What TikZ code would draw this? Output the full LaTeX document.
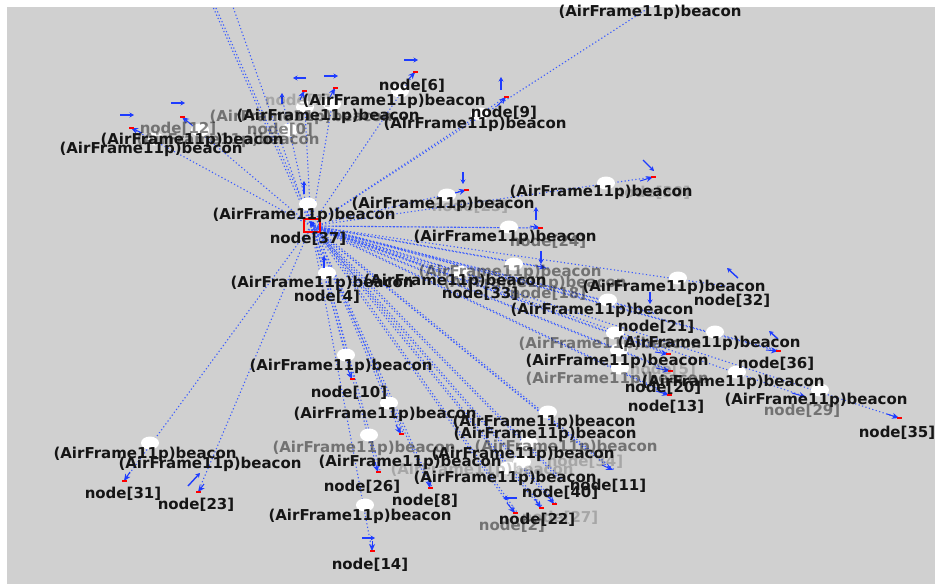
\documentclass[tikz,border=0pt]{standalone}
\usepackage{fontspec}
\setmainfont{DejaVu Sans}
\usetikzlibrary{shapes.geometric,arrows.meta}
\definecolor{bgc}{HTML}{D0D0D0}
\definecolor{lnc}{HTML}{3A5BFF}
\definecolor{arc}{HTML}{1E3CFF}
\definecolor{txc}{HTML}{151515}
\tikzset{
  txt/.style={font=\bfseries\fontsize{15}{15}\selectfont, text=txc, inner sep=0pt},
  half/.style={txt, text opacity=0.5},
  faint/.style={txt, text opacity=0.22},
  link/.style={lnc, line width=1.1pt, dash pattern=on 1.2pt off 2.4pt},
  sph/.style={ellipse, minimum width=18pt, minimum height=13pt, inner sep=0pt, fill=white},
  vel/.style={arc, line width=1.4pt, -{Stealth[length=4.5pt,width=5pt]}},
  dirr/.style={arc, line width=1pt, -{Stealth[length=7pt,width=6pt]}},
}
\newcommand\mk[4]{\draw[dirr] (#3,#4) -- (#1,#2); \fill[red] (#1,#2) ++(-2.5,-1) rectangle ++(5,2);}
\newcommand\bcn{(AirFrame11p)beacon}
\begin{document}
\begin{tikzpicture}[x=1pt,y=-1pt]
\useasboundingbox (0,0) rectangle (935,584);
\fill[white] (0,0) rectangle (935,584);
\fill[bgc] (7,7) rectangle (935,584);

% ---------- node positions ----------
\coordinate (n37) at (311,226);
\coordinate (t1) at (213,7);
\coordinate (t2) at (233,7);
\coordinate (t3) at (650,7);
\coordinate (a1) at (131,128);
\coordinate (a2) at (182,117);
\coordinate (a7) at (283,102);
\coordinate (a3) at (304,91);
\coordinate (a4) at (335,88);
\coordinate (n6) at (415,72);
\coordinate (n9) at (506,97);
\coordinate (b1) at (466,190);
\coordinate (b2) at (653,177);
\coordinate (n24) at (540,228);
\coordinate (n18) at (546,268);
\coordinate (n33) at (482,279);
\coordinate (n4) at (327,284);
\coordinate (n32) at (732,287);
\coordinate (n21) at (656,314);
\coordinate (n36) at (778,351);
\coordinate (n5) at (668,354);
\coordinate (c1) at (670,371);
\coordinate (n20) at (669,395);
\coordinate (n29) at (806,397);
\coordinate (n35) at (899,418);
\coordinate (n10) at (352,379);
\coordinate (d1) at (401,434);
\coordinate (n26) at (378,472);
\coordinate (n14) at (372,551);
\coordinate (n8) at (430,488);
\coordinate (n31) at (124,481);
\coordinate (n23) at (198,492);
\coordinate (n2) at (515,513);
\coordinate (n22) at (541,508);
\coordinate (n27) at (554,504);
\coordinate (n40) at (560,480);
\coordinate (n11) at (612,470);
\coordinate (n34) at (585,449);

% ---------- dotted links ----------
\foreach \t in {t1,t2,t3,a1,a2,a7,a3,a4,n6,n9,b1,b2,n24,n18,n33,n4,n32,n21,n36,n5,c1,n20,n29,n35,n10,d1,n26,n14,n8,n31,n23,n2,n22,n27,n40,n11,n34}
  \draw[link] (n37) -- (\t);
\foreach \t in {t1,n24,n18,n33,n21,n5,c1,n20,n36,n2,n22,n27,n40,n11,n8,d1,n26,n10}
  \draw[link] ([xshift=2.5pt]n37) -- ([xshift=2.5pt]\t);

% ---------- airframes ----------
\foreach \p [count=\i] in {(155,139),(200,130),(289,130),(305,107),(332,104),(400,91),(480,114),(308,204),(447,195),(606,183),(509,227),(514,264),(460,272),(327,273),(678,278),(608,300),(615,333),(715,332),(619,350),(620,368),(737,372),(820,390),(548,412),(346,355),(389,403),(150,443),(369,435),(365,505),(529,443),(522,462),(508,468)}
  \node[sph] (s\i) at \p {};

% ---------- node icons ----------
\draw[red, line width=1.2pt] (304,219) rectangle (320,232);
\fill[arc] (310,222) rectangle ++(4,4);
\mk{131}{128}{142}{133}
\mk{182}{117}{192}{125}
\mk{304}{91}{300}{100}
\mk{335}{88}{330}{97}
\mk{415}{72}{407}{81}
\mk{506}{97}{497}{106}
\mk{466}{190}{455}{193}
\mk{653}{177}{640}{181}
\mk{540}{228}{530}{226}
\mk{778}{351}{766}{350}
\mk{668}{354}{655}{352}
\mk{670}{371}{656}{368}
\mk{669}{395}{656}{391}
\mk{899}{418}{887}{414}
\mk{352}{379}{348}{370}
\mk{124}{481}{130}{472}
\mk{198}{492}{204}{484}
\mk{401}{434}{396}{425}
\mk{378}{472}{375}{462}
\mk{430}{488}{428}{478}
\mk{372}{551}{372}{541}
\mk{515}{513}{507}{503}
\mk{541}{508}{535}{499}
\mk{554}{504}{548}{496}
\draw[dirr] (537,266) -- (546,268);
\draw[dirr] (792,393) -- (806,397);
\draw[dirr] (602,465) -- (613,470);

% ---------- velocity arrows ----------
\draw[vel] (120,115) -- (134,115);
\draw[vel] (171,103) -- (185,103);
\draw[vel] (306,78) -- (293,78);
\draw[vel] (324,76) -- (338,76);
\draw[vel] (282,104) -- (282,93);
\draw[vel] (404,60) -- (418,60);
\draw[vel] (501,90) -- (501,77);
\draw[vel] (463,172) -- (463,184);
\draw[vel] (643,160) -- (654,171);
\draw[vel] (536,220) -- (536,207);
\draw[vel] (541,251) -- (541,264);
\draw[vel] (324,268) -- (324,256);
\draw[vel] (304,194) -- (304,181);
\draw[vel] (738,278) -- (727,268);
\draw[vel] (650,292) -- (650,304);
\draw[vel] (778,339) -- (769,331);
\draw[vel] (188,486) -- (200,473);
\draw[vel] (362,538) -- (375,538);
\draw[vel] (517,498) -- (503,498);

% ---------- partly hidden labels (drawn first) ----------
\node[half] (h1) at (178,129) {node[12]};
\node[half] (h2) at (280,130) {node[0]};
\node[faint] (h3) at (298,101) {node[7]};
\node[faint] (h4) at (470,207) {node[25]};
\node[faint] (h5) at (652,193) {node[30]};
\node[half] (h6) at (548,294) {node[18]};
\node[faint] (h7) at (663,370) {node[5]};
\node[half] (h8) at (802,411) {node[29]};
\node[half] (h9) at (548,242) {node[24]};
\node[faint] (h10) at (585,462) {node[34]};
\node[faint] (h11) at (560,518) {node[27]};
\node[half] (h12) at (512,526) {node[2]};

% ---------- beacon labels ----------
\node[half] (b01) at (228,140) {\bcn};
\node[txt] (b02) at (192,140) {\bcn};
\node[txt] (b03) at (151,149) {\bcn};
\node[half] (b04) at (301,117) {\bcn};
\node[txt] (b05) at (328,116) {\bcn};
\node[txt] (b06) at (394,101) {\bcn};
\node[txt] (b07) at (475,124) {\bcn};
\node[txt] (b08) at (650,12) {\bcn};
\node[txt] (b09) at (304,215) {\bcn};
\node[txt] (b10) at (443,204) {\bcn};
\node[txt] (b11) at (601,192) {\bcn};
\node[txt] (b12) at (505,237) {\bcn};
\node[half] (b13) at (510,272) {\bcn};
\node[half] (b14) at (535,283) {\bcn};
\node[txt] (b15) at (322,283) {\bcn};
\node[txt] (b16) at (455,281) {\bcn};
\node[txt] (b17) at (674,287) {\bcn};
\node[txt] (b18) at (602,310) {\bcn};
\node[half] (b19) at (610,344) {\bcn};
\node[txt] (b20) at (709,343) {\bcn};
\node[txt] (b21) at (617,361) {\bcn};
\node[half] (b22) at (617,379) {\bcn};
\node[txt] (b23) at (733,382) {\bcn};
\node[txt] (b24) at (816,400) {\bcn};
\node[txt] (b25) at (341,366) {\bcn};
\node[txt] (b26) at (385,414) {\bcn};
\node[txt] (b27) at (145,454) {\bcn};
\node[txt] (b28) at (210,464) {\bcn};
\node[half] (b29) at (364,448) {\bcn};
\node[faint] (b30) at (482,470) {\bcn};
\node[half] (b31) at (566,447) {\bcn};
\node[txt] (b32) at (544,422) {\bcn};
\node[txt] (b33) at (545,434) {\bcn};
\node[txt] (b34) at (523,454) {\bcn};
\node[txt] (b35) at (410,462) {\bcn};
\node[txt] (b36) at (505,478) {\bcn};
\node[txt] (b37) at (360,516) {\bcn};

% ---------- node labels ----------
\node[txt] (l37) at (308,239) {node[37]};
\node[txt] (l4) at (327,297) {node[4]};
\node[txt] (l6) at (412,86) {node[6]};
\node[txt] (l9) at (504,113) {node[9]};
\node[txt] (l33) at (480,294) {node[33]};
\node[txt] (l32) at (732,301) {node[32]};
\node[txt] (l21) at (656,327) {node[21]};
\node[txt] (l36) at (776,364) {node[36]};
\node[txt] (l20) at (663,388) {node[20]};
\node[txt] (l13) at (666,407) {node[13]};
\node[txt] (l35) at (897,433) {node[35]};
\node[txt] (l10) at (349,393) {node[10]};
\node[txt] (l31) at (123,494) {node[31]};
\node[txt] (l23) at (196,505) {node[23]};
\node[txt] (l26) at (362,487) {node[26]};
\node[txt] (l8) at (425,501) {node[8]};
\node[txt] (l14) at (370,565) {node[14]};
\node[txt] (l40) at (560,493) {node[40]};
\node[txt] (l11) at (608,486) {node[11]};
\node[txt] (l22) at (537,520) {node[22]};
\end{tikzpicture}
\end{document}
